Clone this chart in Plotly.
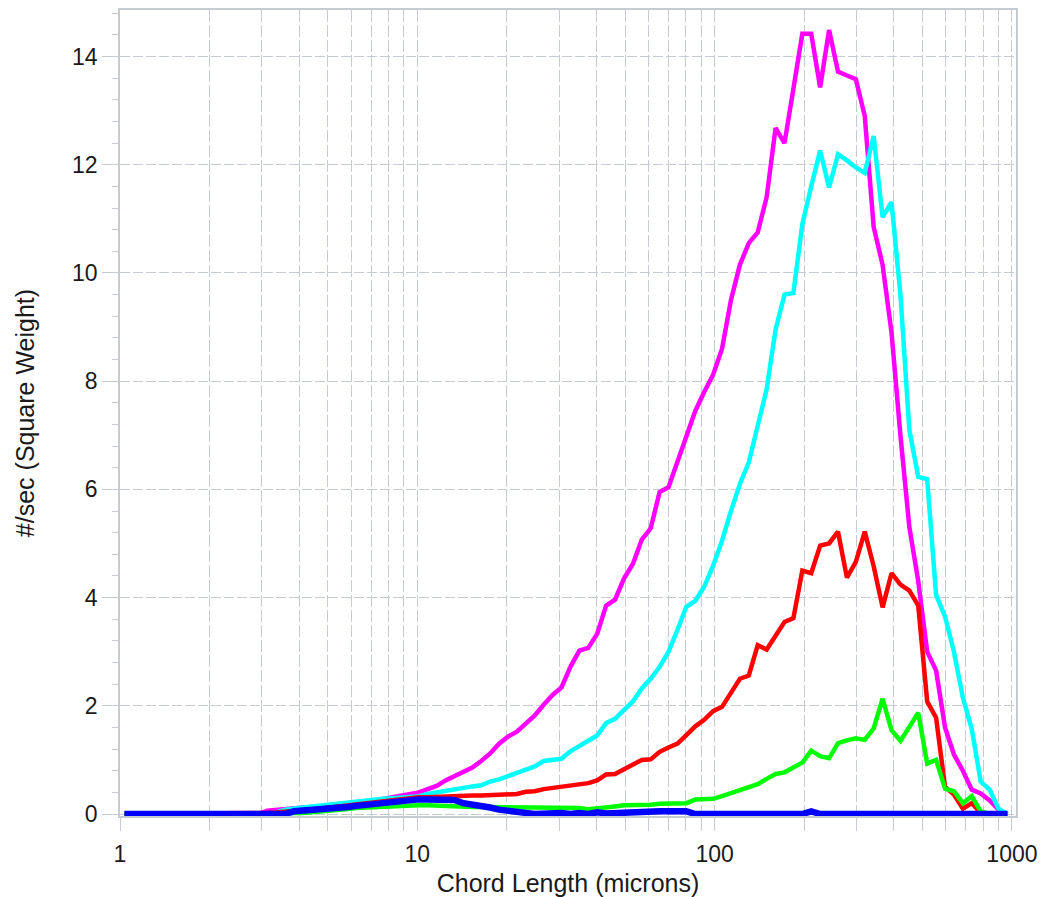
import numpy as np
import plotly.graph_objects as go

# 100 logarithmic chord-length channels from 1 to 1000 microns (channel midpoints)
n_channels = 100
edges = np.logspace(0, 3, n_channels + 1)
chord_um = np.sqrt(edges[:-1] * edges[1:])

magenta_vals = [
    0, 0, 0, 0, 0, 0, 0, 0, 0, 0,
    0, 0, 0, 0, 0, 0, 0.06, 0.08, 0.10, 0.11,
    0.12, 0.13, 0.14, 0.15, 0.16, 0.17, 0.19, 0.22, 0.25, 0.28,
    0.30, 0.32, 0.36, 0.40, 0.46, 0.52, 0.62, 0.70, 0.76, 0.86,
    0.98, 1.12, 1.30, 1.43, 1.52, 1.67, 1.82, 2.02, 2.20, 2.34,
    2.72, 3.02, 3.07, 3.33, 3.85, 3.96, 4.35, 4.62, 5.07, 5.28,
    5.95, 6.04, 6.52, 6.96, 7.45, 7.80, 8.12, 8.60, 9.50, 10.15,
    10.55, 10.75, 11.40, 12.68, 12.40, 13.40, 14.42, 14.42, 13.43, 14.49,
    13.72, 13.65, 13.58, 12.90, 10.85, 10.15, 8.90, 7.00, 5.30, 4.30,
    3.00, 2.65, 1.60, 1.10, 0.80, 0.45, 0.38, 0.25, 0.08, 0.0,
]
cyan_vals = [
    0, 0, 0, 0, 0, 0, 0, 0, 0, 0,
    0, 0, 0, 0, 0, 0, 0, 0.03, 0.08, 0.10,
    0.12, 0.14, 0.16, 0.18, 0.20, 0.22, 0.24, 0.26, 0.27, 0.28,
    0.29, 0.30, 0.31, 0.33, 0.37, 0.40, 0.44, 0.47, 0.50, 0.51,
    0.53, 0.60, 0.64, 0.70, 0.75, 0.80, 0.88, 0.98, 1.01, 1.02,
    1.16, 1.25, 1.35, 1.45, 1.68, 1.76, 1.92, 2.08, 2.32, 2.50,
    2.72, 3.00, 3.40, 3.83, 3.94, 4.20, 4.59, 5.05, 5.60, 6.10,
    6.50, 7.15, 7.85, 8.95, 9.60, 9.63, 10.90, 11.60, 12.26, 11.58,
    12.19, 12.08, 11.95, 11.85, 12.53, 11.03, 11.31, 9.60, 7.10, 6.23,
    6.19, 4.05, 3.65, 3.00, 2.15, 1.57, 0.60, 0.45, 0.10, 0.0,
]
red_vals = [
    0, 0, 0, 0, 0, 0, 0, 0, 0, 0,
    0, 0, 0, 0, 0, 0, 0.02, 0.03, 0.04, 0.05,
    0.06, 0.08, 0.10, 0.12, 0.14, 0.16, 0.18, 0.20, 0.22, 0.24,
    0.26, 0.28, 0.30, 0.31, 0.31, 0.32, 0.33, 0.33, 0.34, 0.34,
    0.34, 0.35, 0.35, 0.36, 0.37, 0.41, 0.42, 0.46, 0.48, 0.50,
    0.53, 0.56, 0.57, 0.62, 0.73, 0.74, 0.82, 0.90, 1.00, 1.01,
    1.15, 1.23, 1.30, 1.46, 1.62, 1.74, 1.90, 1.98, 2.25, 2.50,
    2.56, 3.12, 3.04, 3.30, 3.55, 3.62, 4.50, 4.45, 4.96, 5.00,
    5.22, 4.37, 4.66, 5.22, 4.58, 3.82, 4.45, 4.24, 4.13, 3.85,
    2.08, 1.78, 0.50, 0.36, 0.10, 0.20, 0.02, 0, 0, 0,
]
green_vals = [
    0, 0, 0, 0, 0, 0, 0, 0, 0, 0,
    0, 0, 0, 0, 0, 0, 0, 0, 0, 0.01,
    0.02, 0.03, 0.04, 0.05, 0.07, 0.09, 0.11, 0.12, 0.13, 0.14,
    0.15, 0.15, 0.16, 0.16, 0.16, 0.15, 0.15, 0.14, 0.14, 0.13,
    0.13, 0.13, 0.13, 0.13, 0.13, 0.13, 0.13, 0.13, 0.13, 0.12,
    0.12, 0.11, 0.09, 0.10, 0.13, 0.14, 0.16, 0.16, 0.16, 0.17,
    0.19, 0.20, 0.20, 0.20, 0.27, 0.28, 0.28, 0.33, 0.38, 0.43,
    0.48, 0.55, 0.65, 0.74, 0.77, 0.86, 0.95, 1.17, 1.07, 1.03,
    1.31, 1.36, 1.40, 1.37, 1.58, 2.13, 1.55, 1.35, 1.60, 1.87,
    0.93, 1.00, 0.47, 0.42, 0.20, 0.33, 0.05, 0, 0, 0,
]
blue_vals = [
    0, 0, 0, 0, 0, 0, 0, 0, 0, 0,
    0, 0, 0, 0, 0, 0, 0, 0, 0, 0.05,
    0.06, 0.07, 0.08, 0.09, 0.10, 0.13, 0.15, 0.17, 0.18, 0.20,
    0.23, 0.25, 0.26, 0.27, 0.27, 0.27, 0.27, 0.26, 0.20, 0.18,
    0.15, 0.12, 0.08, 0.05, 0.03, 0.02, 0.0, 0.01, 0.0, 0.02,
    0.0, 0.02, 0.0, 0.03, 0.01, 0.02, 0.04, 0.04, 0.04, 0.04,
    0.05, 0.05, 0.05, 0.05, 0.0, 0, 0, 0, 0, 0,
    0, 0, 0, 0, 0, 0, 0, 0.05, 0, 0,
    0, 0, 0, 0, 0, 0, 0, 0, 0, 0,
    0, 0, 0, 0, 0, 0, 0, 0, 0, 0,
]

x_tick_vals = [1, 10, 100, 1000]
x_tick_text = ["1", "10", "100", "1000"]
x_minor_vals = [m * d for d in (1, 10, 100) for m in range(2, 10)]

series = [
    ("magenta", magenta_vals, "#ff00ff", 4.5),
    ("cyan", cyan_vals, "#00ffff", 4.5),
    ("red", red_vals, "#ff0000", 4.5),
    ("green", green_vals, "#00ff00", 4.5),
    ("blue", blue_vals, "#0000ff", 6.5),
]

fig = go.Figure()
for name, vals, color, w in series:
    fig.add_trace(go.Scatter(x=chord_um, y=vals, mode="lines", name=name,
                             line=dict(color=color, width=w), showlegend=False))

grid_c = "#c6cad1"
font_fam = "Liberation Sans, Arial, Helvetica, sans-serif"

fig.update_layout(
    width=1044, height=897,
    margin=dict(l=120, r=28, t=10, b=81),
    paper_bgcolor="white", plot_bgcolor="white",
    font=dict(family=font_fam, color="#1a1a1a"),
    xaxis=dict(
        type="log", range=[0, 3.0137], automargin=False,
        tickmode="array", tickvals=x_tick_vals, ticktext=x_tick_text,
        ticks="outside", ticklen=13, tickcolor=grid_c, tickwidth=1.2,
        ticklabelstandoff=4,
        showgrid=True, gridcolor=grid_c, gridwidth=1.2, griddash="12px,3px",
        minor=dict(tickmode="array", tickvals=x_minor_vals, ticks="outside",
                   ticklen=13, tickcolor=grid_c, tickwidth=1.2, showgrid=True,
                   gridcolor=grid_c, gridwidth=1.2, griddash="12px,3px"),
        showline=True, linecolor=grid_c, linewidth=1.5, mirror=True,
        zeroline=False,
        tickfont=dict(size=23, color="#1a1a1a"),
        title=dict(text="Chord Length (microns)", font=dict(size=25), standoff=9),
    ),
    yaxis=dict(
        range=[-0.037, 14.86], tickmode="linear", tick0=0, dtick=2,
        automargin=False,
        ticks="outside", ticklen=16, tickcolor=grid_c, tickwidth=1.2,
        showgrid=True, gridcolor=grid_c, gridwidth=1.2, griddash="10px,3px",
        minor=dict(tickmode="linear", tick0=0, dtick=0.4, ticks="outside",
                   ticklen=6, tickcolor=grid_c, tickwidth=1.2, showgrid=False),
        showline=True, linecolor=grid_c, linewidth=1.5, mirror=True,
        zeroline=False,
        tickfont=dict(size=23, color="#1a1a1a"),
        title=dict(text="#/sec (Square Weight)", font=dict(size=25), standoff=30),
    ),
)

fig.write_html("out.html", config={"displayModeBar": False},
               post_script="document.body.style.margin='0';document.body.style.overflow='hidden';")
